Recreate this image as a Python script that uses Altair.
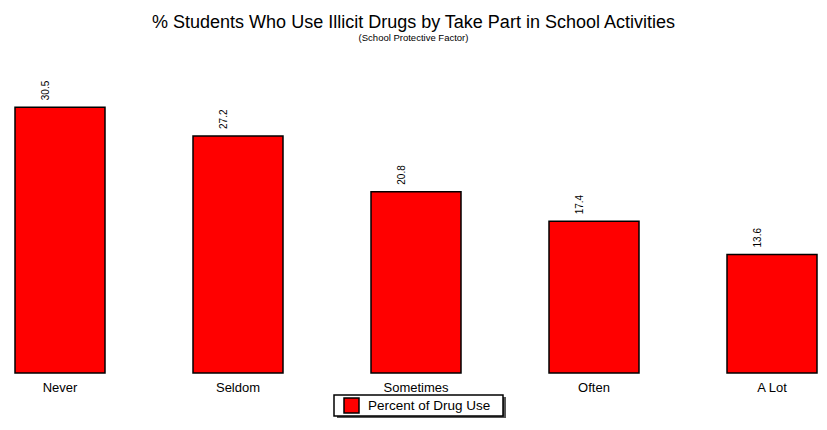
import altair as alt
import pandas as pd

categories = ["Never", "Seldom", "Sometimes", "Often", "A Lot"]
values = [30.5, 27.2, 20.8, 17.4, 13.6]
value_labels = ["30.5", "27.2", "20.8", "17.4", "13.6"]
series_name = "Percent of Drug Use"

FONT = "Liberation Sans"

df = pd.DataFrame({
    "category": categories,
    "value": values,
    "label": value_labels,
    "series": [series_name] * len(categories),
})

x_enc = alt.X(
    "category:N",
    sort=categories,
    scale=alt.Scale(paddingInner=0.4944, paddingOuter=0.02528, align=0.778, round=False),
    axis=alt.Axis(title=None, labelAngle=0, domain=False, ticks=False,
                  labelFontSize=13, labelPadding=8, labelColor="#000000",
                  labelFont=FONT),
)
y_enc = alt.Y("value:Q", scale=alt.Scale(domain=[0, 35], nice=False), axis=None)

base = alt.Chart(df)

bars = base.mark_bar(stroke="black", strokeWidth=1.5).encode(
    x=x_enc,
    y=y_enc,
    color=alt.Color(
        "series:N",
        scale=alt.Scale(range=["#FF0000"]),
        legend=alt.Legend(
            title=None, orient="none", legendX=335, legendY=329,
            symbolType="square", symbolSize=225, symbolStrokeColor="black",
            symbolStrokeWidth=1.5, symbolOpacity=1, labelFontSize=13.5, labelOffset=8,
            labelFont=FONT, labelColor="#000000", padding=0,
        ),
    ),
)

labels = base.mark_text(
    angle=270, align="left", baseline="middle", yOffset=-7, xOffset=-14,
    fontSize=10, font=FONT, color="#000000",
).encode(x=alt.X("category:N", sort=categories), y="value:Q", text="label:N")

one = alt.Chart(pd.DataFrame({"k": [0]}))
shadow = one.mark_rect(color="#555555").encode(
    x=alt.value(329), x2=alt.value(498), y=alt.value(329), y2=alt.value(350)
)
box = one.mark_rect(fill="white", stroke="black", strokeWidth=1.5).encode(
    x=alt.value(326), x2=alt.value(495), y=alt.value(327), y2=alt.value(348)
)

chart = alt.layer(bars, labels, shadow, box).properties(
    width=811,
    height=305,
    autosize="none",
    padding={"left": 0, "top": 60, "right": 0, "bottom": 45},
    title=alt.TitleParams(
        text="% Students Who Use Illicit Drugs by Take Part in School Activities",
        subtitle="(School Protective Factor)",
        fontSize=18, subtitleFontSize=9.5, font=FONT, subtitleFont=FONT,
        fontWeight="normal", color="#000000", subtitleColor="#000000",
        anchor="middle", offset=26, subtitlePadding=1,
    ),
).configure_view(stroke=None)

chart.save("out.html", embed_options={"renderer": "svg", "actions": False})
